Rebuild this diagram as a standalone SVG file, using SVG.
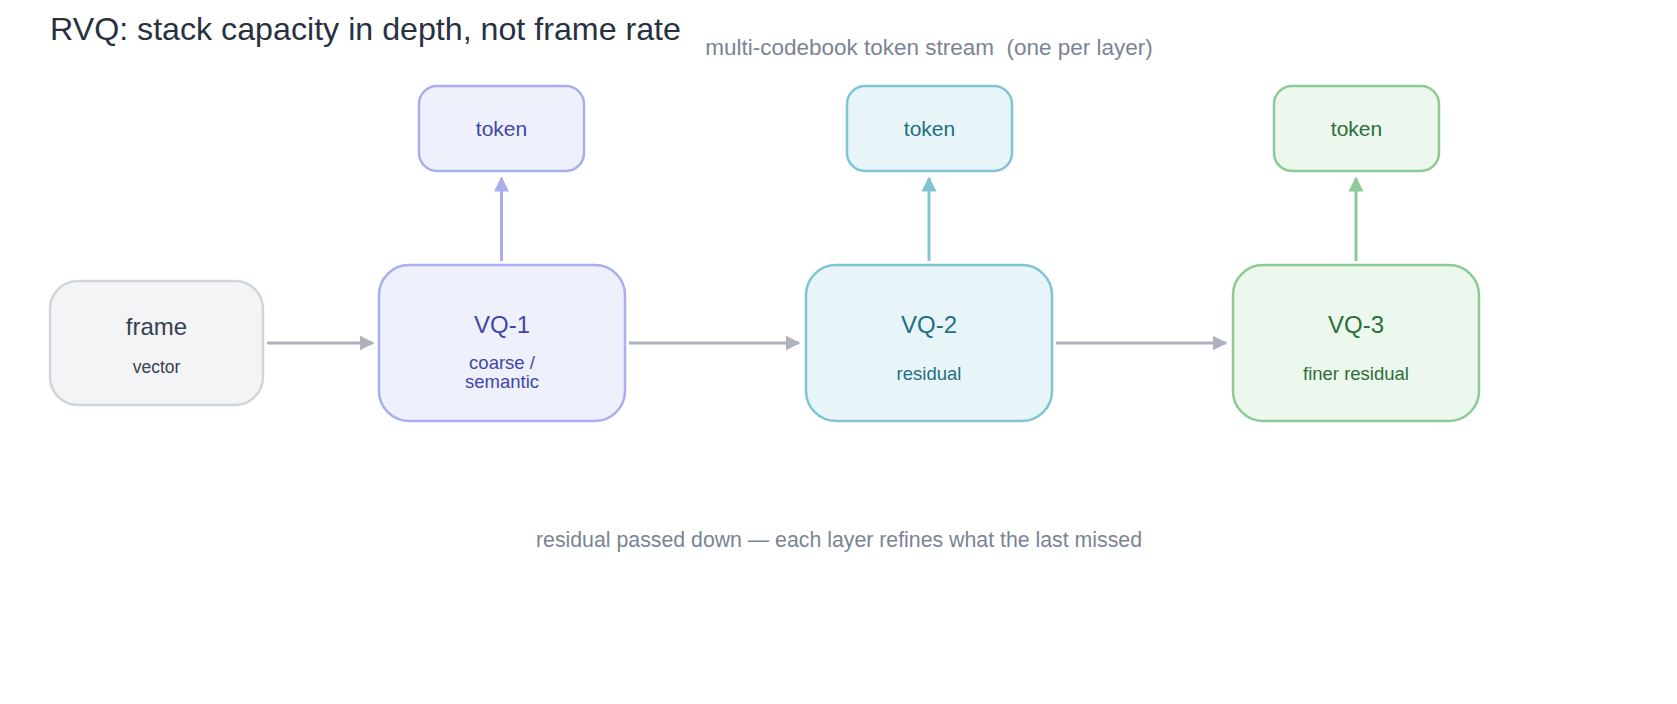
<svg xmlns="http://www.w3.org/2000/svg" width="1677" height="704" viewBox="0 0 1677 704">
<style>
text{font-family:"Liberation Sans",Arial,sans-serif;text-anchor:middle}
.title{font-size:32.2px;fill:#283142;text-anchor:start}
.note{font-size:21.3px;fill:#7b8494;white-space:pre}
.box{stroke-width:2.5}
.main{font-size:24px}
.sub{font-size:18.5px}
.tok{font-size:21px}
.g0 rect{fill:#f3f4f6;stroke:#d1d5db}
.g0 text{fill:#374151}
.g1 rect{fill:#eef0fc;stroke:#a9aeee}
.g1 text{fill:#3f47a8}
.g2 rect{fill:#e8f5f8;stroke:#80c4d6}
.g2 text{fill:#22707f}
.g3 rect{fill:#ecf7ed;stroke:#8ccb95}
.g3 text{fill:#2c6e3b}
.conn line{stroke-width:3;fill:none}
</style>
<defs>
<marker id="aGray" viewBox="0 0 10 10" refX="9" refY="5" markerWidth="5" markerHeight="5" markerUnits="strokeWidth" orient="auto"><path d="M0,0 L10,5 L0,10 z" fill="#adb2bd"/></marker>
<marker id="a1" viewBox="0 0 10 10" refX="9" refY="5" markerWidth="5" markerHeight="5" markerUnits="strokeWidth" orient="auto"><path d="M0,0 L10,5 L0,10 z" fill="#a9aeee"/></marker>
<marker id="a2" viewBox="0 0 10 10" refX="9" refY="5" markerWidth="5" markerHeight="5" markerUnits="strokeWidth" orient="auto"><path d="M0,0 L10,5 L0,10 z" fill="#80c4d6"/></marker>
<marker id="a3" viewBox="0 0 10 10" refX="9" refY="5" markerWidth="5" markerHeight="5" markerUnits="strokeWidth" orient="auto"><path d="M0,0 L10,5 L0,10 z" fill="#8ccb95"/></marker>
</defs>
<rect width="1677" height="704" fill="#ffffff"/>
<text class="title" x="50" y="40">RVQ: stack capacity in depth, not frame rate</text>
<text class="note" x="929" y="55" xml:space="preserve" style="font-size:22.5px">multi-codebook token stream  (one per layer)</text>
<text class="note" x="839" y="547">residual passed down — each layer refines what the last missed</text>

<g id="conn" class="conn">
<line x1="267" y1="343" x2="373" y2="343" stroke="#adb2bd" marker-end="url(#aGray)"/>
<line x1="629" y1="343" x2="799" y2="343" stroke="#adb2bd" marker-end="url(#aGray)"/>
<line x1="1056" y1="343" x2="1226" y2="343" stroke="#adb2bd" marker-end="url(#aGray)"/>
<line x1="501.5" y1="261" x2="501.5" y2="178" stroke="#a9aeee" marker-end="url(#a1)"/>
<line x1="929" y1="261" x2="929" y2="178" stroke="#80c4d6" marker-end="url(#a2)"/>
<line x1="1356" y1="261" x2="1356" y2="178" stroke="#8ccb95" marker-end="url(#a3)"/>
</g>

<g id="frame" class="g0">
<rect class="box" x="50" y="281" width="213" height="124" rx="28"/>
<text class="main" x="156.5" y="335">frame</text>
<text class="sub" x="156.5" y="373" style="font-size:17.5px">vector</text>
</g>

<g id="vq1" class="g1">
<rect class="box" x="379" y="265" width="246" height="156" rx="30"/>
<text class="main" x="502" y="333">VQ-1</text>
<text class="sub" x="502" y="369">coarse /</text>
<text class="sub" x="502" y="388">semantic</text>
</g>
<g id="vq2" class="g2">
<rect class="box" x="806" y="265" width="246" height="156" rx="30"/>
<text class="main" x="929" y="333">VQ-2</text>
<text class="sub" x="929" y="380">residual</text>
</g>
<g id="vq3" class="g3">
<rect class="box" x="1233" y="265" width="246" height="156" rx="30"/>
<text class="main" x="1356" y="333">VQ-3</text>
<text class="sub" x="1356" y="380">finer residual</text>
</g>

<g id="tok1" class="g1">
<rect class="box" x="419" y="86" width="165" height="85" rx="18"/>
<text class="tok" x="501.5" y="136">token</text>
</g>
<g id="tok2" class="g2">
<rect class="box" x="847" y="86" width="165" height="85" rx="18"/>
<text class="tok" x="929.5" y="136">token</text>
</g>
<g id="tok3" class="g3">
<rect class="box" x="1274" y="86" width="165" height="85" rx="18"/>
<text class="tok" x="1356.5" y="136">token</text>
</g>
</svg>
